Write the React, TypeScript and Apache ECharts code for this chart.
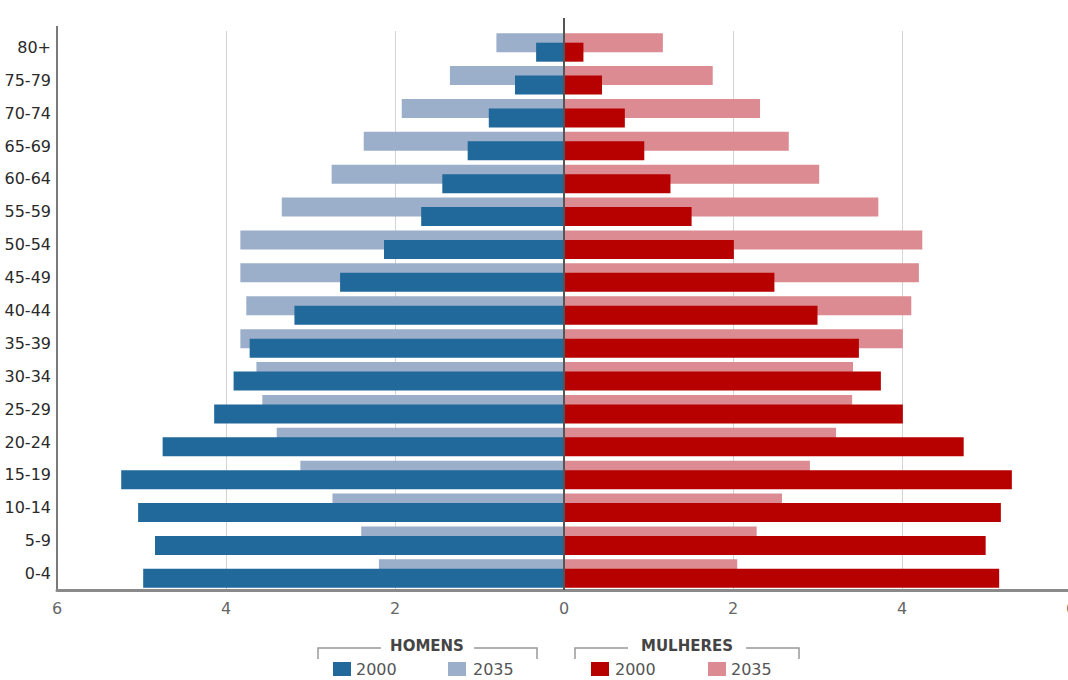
import React, { useEffect, useRef } from "react";
import * as echarts from "echarts";

const categories = ["0-4", "5-9", "10-14", "15-19", "20-24", "25-29", "30-34", "35-39", "40-44", "45-49", "50-54", "55-59", "60-64", "65-69", "70-74", "75-79", "80+"];
const homens2000 = [4.98, 4.84, 5.04, 5.24, 4.75, 4.14, 3.91, 3.72, 3.19, 2.65, 2.13, 1.69, 1.44, 1.14, 0.89, 0.58, 0.33];
const homens2035 = [2.19, 2.4, 2.74, 3.12, 3.4, 3.57, 3.64, 3.83, 3.76, 3.83, 3.83, 3.34, 2.75, 2.37, 1.92, 1.35, 0.8];
const mulheres2000 = [5.15, 4.99, 5.17, 5.3, 4.73, 4.01, 3.75, 3.49, 3.0, 2.49, 2.01, 1.51, 1.26, 0.95, 0.72, 0.45, 0.23];
const mulheres2035 = [2.05, 2.28, 2.58, 2.91, 3.22, 3.41, 3.42, 4.01, 4.11, 4.2, 4.24, 3.72, 3.02, 2.66, 2.32, 1.76, 1.17];
const xTicks = { min: -6, max: 6, interval: 2 };

const C_M2000 = "#20699a";
const C_M2035 = "#9cafca";
const C_F2000 = "#b70000";
const C_F2035 = "#db8b91";

const FONT = "DejaVu Sans";

export default function App() {
  const ref = useRef<HTMLDivElement>(null);
  useEffect(() => {
    if (!ref.current) return;
    const chart = echarts.init(ref.current, null, { renderer: "svg" });
    const barBase = { type: "bar", barWidth: 19, barGap: "-50%", silent: true };
    const legendText = (x: number, y: number, text: string, extra: any = {}) => ({
      type: "text",
      x,
      y,
      style: { text, fill: "#555", font: `16px "${FONT}"`, textVerticalAlign: "middle", ...extra },
    });
    chart.setOption({
      animation: false,
      grid: { left: 57, right: -3, top: 31, bottom: 90, outerBoundsMode: "none" },
      xAxis: {
        type: "value",
        min: xTicks.min,
        max: xTicks.max,
        interval: xTicks.interval,
        axisLine: { show: true, onZero: false, lineStyle: { color: "#8a8a8a", width: 3 } },
        axisTick: { show: false },
        axisLabel: {
          formatter: (v: number) => String(Math.abs(v)),
          color: "#666",
          fontFamily: FONT,
          fontSize: 16,
          margin: 10,
        },
        splitLine: { show: true, lineStyle: { color: "#d4d4d4", width: 1 } },
      },
      yAxis: {
        type: "category",
        data: categories,
        axisLine: { show: true, onZero: false, lineStyle: { color: "#7a7a7a", width: 2 } },
        axisTick: { show: false },
        axisLabel: { color: "#2a2a2a", fontFamily: FONT, fontSize: 16, margin: 6 },
      },
      series: [
        { ...barBase, name: "Homens 2035", stack: "y2035", data: homens2035.map((v) => -v), itemStyle: { color: C_M2035 }, z: 2 },
        { ...barBase, name: "Mulheres 2035", stack: "y2035", data: mulheres2035, itemStyle: { color: C_F2035 }, z: 2 },
        { ...barBase, name: "Homens 2000", stack: "y2000", data: homens2000.map((v) => -v), itemStyle: { color: C_M2000 }, z: 3 },
        {
          ...barBase,
          name: "Mulheres 2000",
          stack: "y2000",
          data: mulheres2000,
          itemStyle: { color: C_F2000 },
          z: 3,
          markLine: {
            silent: true,
            symbol: "none",
            label: { show: false },
            lineStyle: { color: "#555", width: 2, type: "solid" },
            data: [{ xAxis: 0 }],
            z: 5,
          },
        },
      ],
      graphic: [
        { type: "line", shape: { x1: 564, y1: 18, x2: 564, y2: 31 }, style: { stroke: "#555", lineWidth: 2 } },
        { type: "line", shape: { x1: 57, y1: 26, x2: 57, y2: 31 }, style: { stroke: "#7a7a7a", lineWidth: 2 } },
        // HOMENS bracket
        { type: "polyline", shape: { points: [[318, 659], [318, 648], [381, 648]] }, style: { stroke: "#999", lineWidth: 1.5, fill: null } },
        { type: "polyline", shape: { points: [[474, 648], [537, 648], [537, 659]] }, style: { stroke: "#999", lineWidth: 1.5, fill: null } },
        legendText(427, 646, "HOMENS", { font: `bold 15px "${FONT}"`, textAlign: "center", fill: "#444" }),
        { type: "rect", shape: { x: 333, y: 662, width: 18, height: 14 }, style: { fill: C_M2000 } },
        legendText(356, 669, "2000"),
        { type: "rect", shape: { x: 448, y: 662, width: 18, height: 14 }, style: { fill: C_M2035 } },
        legendText(473, 669, "2035"),
        // MULHERES bracket
        { type: "polyline", shape: { points: [[575, 659], [575, 648], [628, 648]] }, style: { stroke: "#999", lineWidth: 1.5, fill: null } },
        { type: "polyline", shape: { points: [[746, 648], [799, 648], [799, 659]] }, style: { stroke: "#999", lineWidth: 1.5, fill: null } },
        legendText(687, 646, "MULHERES", { font: `bold 15px "${FONT}"`, textAlign: "center", fill: "#444" }),
        { type: "rect", shape: { x: 591, y: 662, width: 18, height: 14 }, style: { fill: C_F2000 } },
        legendText(615, 669, "2000"),
        { type: "rect", shape: { x: 708, y: 662, width: 18, height: 14 }, style: { fill: C_F2035 } },
        legendText(731, 669, "2035"),
      ],
    });
    return () => chart.dispose();
  }, []);
  return (
    <div
      ref={ref}
      style={{ position: "fixed", left: 0, top: 0, width: 1068, height: 680, background: "#fff" }}
    />
  );
}
